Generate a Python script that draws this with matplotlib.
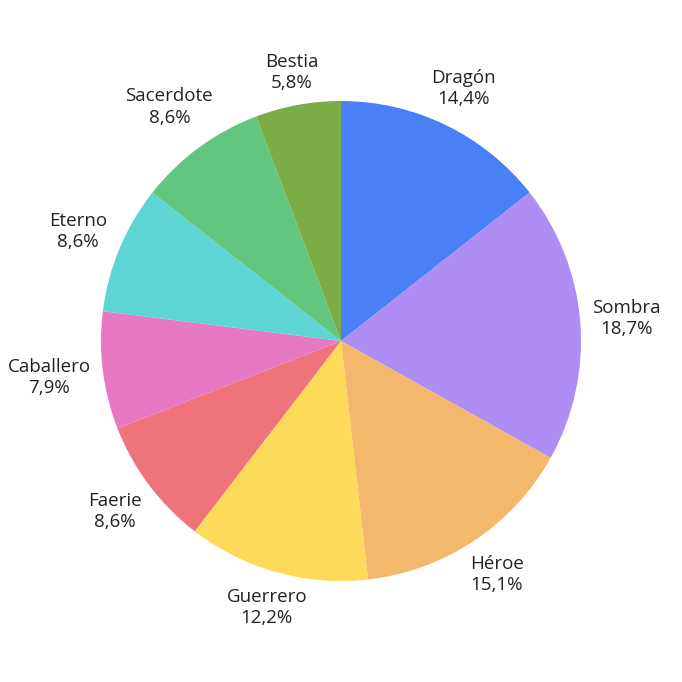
import matplotlib
matplotlib.use("Agg")
import matplotlib.pyplot as plt
import numpy as np

categories = ["Dragón", "Sombra", "Héroe", "Guerrero", "Faerie", "Caballero", "Eterno", "Sacerdote", "Bestia"]
values = [20, 26, 21, 17, 12, 11, 12, 12, 8]
colors = ["#4a80f6", "#ae8df5", "#f3b86c", "#feda5b", "#ef737a", "#e778c4", "#5dd5d5", "#62c67e", "#7cac46"]

plt.rcParams['font.family'] = ['Open Sans', 'DejaVu Sans']

fig = plt.figure(figsize=(6.82, 6.82), dpi=100)
R_PX = 240.0
ax = fig.add_axes([(341 - R_PX)/682, (341 - R_PX)/682, 2*R_PX/682, 2*R_PX/682])
total = sum(values)
labels = [f"{c}\n{v/total*100:.1f}%".replace(".", ",") for c, v in zip(categories, values)]
wedges, _ = ax.pie(values, colors=colors, startangle=90, counterclock=False, radius=1.0)
ax.set_xlim(-1, 1)
ax.set_ylim(-1, 1)
ax.set_aspect("equal")
ax.axis("off")

renderer = fig.canvas.get_renderer()
TARGET = 251.0   # min distance (px) from pie centre to label box


def nearest(cx, cy, hw, hh):
    dx = max(abs(cx) - hw, 0.0)
    dy = max(abs(cy) - hh, 0.0)
    return np.hypot(dx, dy)


for w, lab in zip(wedges, labels):
    ang = np.deg2rad((w.theta1 + w.theta2) / 2)
    t = ax.text(0, 0, lab, fontsize=13.5, color="#222222", ha="center", va="center",
                multialignment="center", linespacing=1.22)
    bb = t.get_window_extent(renderer)
    hw = bb.width / 2
    hh = bb.height / 2 - 1.5
    lo, hi = 0.0, 600.0
    for _ in range(60):
        mid = (lo + hi) / 2
        if nearest(mid * np.cos(ang), mid * np.sin(ang), hw, hh) < TARGET:
            lo = mid
        else:
            hi = mid
    d = hi
    t.set_position((d * np.cos(ang) / R_PX, d * np.sin(ang) / R_PX))
    t.set_clip_on(False)

fig.savefig("out.png", dpi=100)
